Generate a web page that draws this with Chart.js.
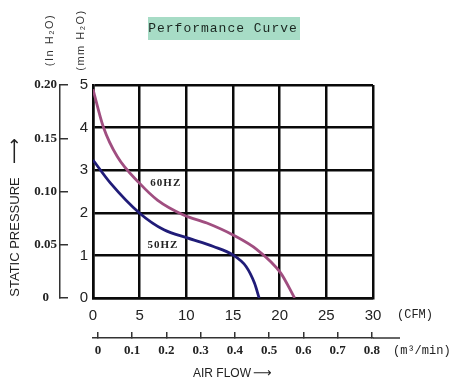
<!DOCTYPE html>
<html>
<head>
<meta charset="utf-8">
<script src="https://cdn.jsdelivr.net/npm/chart.js@4/dist/chart.umd.min.js"></script>
<style>
  html, body { margin: 0; padding: 0; background: #fff; }
  #wrap { width: 464px; height: 390px; }
</style>
</head>
<body>
<div id="wrap"><canvas id="canvas1" width="464" height="390"></canvas></div>
<script>
// air flow (CFM) vs static pressure (mm H2O)
const cfm60 = [0, 1.1, 2.6, 5, 6.9, 9.7, 12.2, 15, 17.6, 20.1, 21.6];
const mm60 = [4.9, 4.02, 3.32, 2.69, 2.3, 1.95, 1.76, 1.48, 1.13, 0.59, 0];
const cfm50 = [0, 1.9, 5, 7.6, 10.1, 12.9, 15, 16.4, 17.3, 17.8];
const mm50 = [3.24, 2.69, 1.99, 1.6, 1.41, 1.21, 1.01, 0.74, 0.35, 0];

const seriesNames = ['60HZ', '50HZ'];
const m3Ticks = [0, 0.1, 0.2, 0.3, 0.4, 0.5, 0.6, 0.7, 0.8];
const inchTicks = [0, 0.05, 0.10, 0.15, 0.20];

const toPoints = (xs, ys) => xs.map((x, i) => ({ x: x, y: ys[i] }));

const extras = {
  id: 'extras',
  afterDraw(chart) {
    const ctx = chart.ctx;
    const xs = chart.scales.x, ys = chart.scales.y, x2 = chart.scales.x2;
    ctx.save();
    // title box
    ctx.fillStyle = '#a7dcc6';
    ctx.fillRect(148, 17, 152, 23);
    ctx.fillStyle = '#1a2620';
    ctx.font = '13px "Liberation Mono"';
    ctx.textAlign = 'center';
    ctx.textBaseline = 'middle';
    ctx.letterSpacing = '1px';
    ctx.fillText('Performance Curve', 223, 29);
    ctx.letterSpacing = '0px';

    // rotated unit labels
    ctx.fillStyle = '#333';
    ctx.font = '11px "Liberation Sans"';
    ctx.letterSpacing = '1.5px';
    const vtext = (t, x, y) => {
      ctx.save();
      ctx.translate(x, y);
      ctx.rotate(-Math.PI / 2);
      ctx.fillText(t, 0, 0);
      ctx.restore();
    };
    vtext('(In H\u2082O)', 50, 40);
    vtext('(mm H\u2082O)', 81, 40);
    ctx.letterSpacing = '0px';
    ctx.font = '13px "Liberation Sans"';
    ctx.fillStyle = '#222';
    vtext('STATIC PRESSURE', 15, 237);
    ctx.font = '18px "DejaVu Sans"';
    vtext('\u27F6', 15, 151);

    // m3/min axis line runs on past the last tick
    ctx.strokeStyle = '#333';
    ctx.lineWidth = 1.5;
    ctx.beginPath();
    ctx.moveTo(x2.right, x2.top);
    ctx.lineTo(400, x2.top);
    ctx.stroke();

    // unit labels on the right
    ctx.font = '12px "Liberation Mono"';
    ctx.textAlign = 'left';
    ctx.fillText('(CFM)', 397, 315);
    ctx.fillText('(m\u00b3/min)', 393, 351);
    ctx.font = '12px "Liberation Sans"';
    ctx.fillText('AIR FLOW', 193, 374);
    ctx.font = '13px "DejaVu Sans"';
    ctx.fillText('\u27F6', 253, 374);

    // curve labels
    ctx.font = 'bold 11px "Liberation Serif"';
    ctx.letterSpacing = '1px';
    ctx.textAlign = 'center';
    ctx.fillStyle = '#222';
    ctx.fillText(seriesNames[0], xs.getPixelForValue(7.8), ys.getPixelForValue(2.7));
    ctx.fillText(seriesNames[1], xs.getPixelForValue(7.5), ys.getPixelForValue(1.25));
    ctx.restore();
  }
};

const ctx1 = canvas1.getContext('2d');
const config = {
  type: 'scatter',
  data: {
    datasets: [{
      label: seriesNames[0],
      data: toPoints(cfm60, mm60),
      showLine: true,
      borderColor: '#a04e80',
      borderWidth: 2.8,
      pointRadius: 0,
      cubicInterpolationMode: 'monotone'
    }, {
      label: seriesNames[1],
      data: toPoints(cfm50, mm50),
      showLine: true,
      borderColor: '#201c78',
      borderWidth: 2.8,
      pointRadius: 0,
      cubicInterpolationMode: 'monotone'
    }]
  },
  options: {
    responsive: false,
    animation: false,
    layout: { padding: { top: 85, right: 91, bottom: 0, left: 0 } },
    plugins: { legend: { display: false }, tooltip: { enabled: false } },
    scales: {
      x: {
        type: 'linear', position: 'bottom', weight: 0,
        min: 0, max: 30,
        ticks: { stepSize: 5, autoSkip: false, maxRotation: 0, padding: 9, color: '#222', font: { family: 'Liberation Sans', size: 15 } },
        grid: { color: '#0a0a0a', lineWidth: 2.5, drawTicks: false },
        border: { color: '#0a0a0a', width: 2.5 },
        afterFit: (s) => { s.height = 40; }
      },
      x2: {
        type: 'linear', position: 'bottom', weight: 1,
        min: -0.0146, max: 0.803,
        afterBuildTicks: (s) => { s.ticks = m3Ticks.map(v => ({ value: v })); },
        ticks: { autoSkip: false, maxRotation: 0, padding: 11, color: '#222', font: { family: 'Liberation Serif', size: 13, weight: 'bold' },
          callback: (v) => v === 0 ? '0' : v.toFixed(1) },
        grid: { display: true, drawOnChartArea: false, tickLength: -6, color: '#333', lineWidth: 1.5 },
        border: { display: true, color: '#333', width: 1.5 },
        afterFit: (s) => { s.height = 52; }
      },
      y: {
        type: 'linear', position: 'left', weight: 0,
        min: 0, max: 5,
        ticks: { stepSize: 1, padding: 5, color: '#222', font: { family: 'Liberation Sans', size: 15 } },
        grid: { color: '#0a0a0a', lineWidth: 2.5, drawTicks: false },
        border: { color: '#0a0a0a', width: 2.5 },
        afterFit: (s) => { s.width = 33; }
      },
      y2: {
        type: 'linear', position: 'left', weight: 1,
        min: 0, max: 0.2,
        afterBuildTicks: (s) => { s.ticks = inchTicks.map(v => ({ value: v })); },
        ticks: { crossAlign: 'center', padding: 11, color: '#222', font: { family: 'Liberation Serif', size: 13, weight: 'bold' },
          callback: (v) => v === 0 ? '0' : v.toFixed(2) },
        grid: { display: true, drawOnChartArea: false, tickLength: -8, color: '#333', lineWidth: 1.5 },
        border: { display: true, color: '#333', width: 1.5 },
        afterFit: (s) => { s.width = 60; }
      }
    }
  },
  plugins: [extras]
};
const chart1 = new Chart(ctx1, config);
</script>
</body>
</html>
